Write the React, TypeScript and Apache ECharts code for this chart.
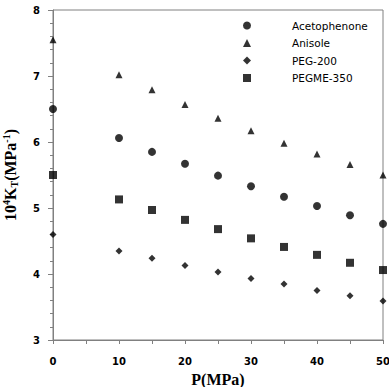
import React, { useEffect, useRef } from "react";
import * as echarts from "echarts";

const pressures = [0, 10, 15, 20, 25, 30, 35, 40, 45, 50];
const acetophenone = [6.5, 6.06, 5.85, 5.67, 5.49, 5.33, 5.17, 5.03, 4.89, 4.76];
const anisole = [7.55, 7.02, 6.79, 6.57, 6.36, 6.17, 5.98, 5.82, 5.66, 5.5];
const peg200 = [4.6, 4.35, 4.24, 4.13, 4.03, 3.93, 3.85, 3.75, 3.67, 3.59];
const pegme350 = [5.5, 5.13, 4.97, 4.82, 4.68, 4.54, 4.41, 4.29, 4.17, 4.06];

const seriesNames = ["Acetophenone", "Anisole", "PEG-200", "PEGME-350"];
const seriesValues = [acetophenone, anisole, peg200, pegme350];
const seriesSymbols = ["circle", "triangle", "diamond", "rect"];
const seriesSizes = [8, 7, 7, 8];

export default function App() {
  const ref = useRef<HTMLDivElement>(null);
  useEffect(() => {
    if (!ref.current) return;
    const chart = echarts.init(ref.current, undefined, { renderer: "svg" });
    const axisGray = "#808080";
    const labelStyle = {
      color: "#000",
      fontFamily: "DejaVu Sans",
      fontWeight: "bold" as const,
      fontSize: 10,
    };
    const titleFont = {
      fontFamily: "Liberation Serif",
      fontWeight: "bold" as const,
      fontSize: 16,
      color: "#000",
    };
    chart.setOption({
      animation: false,
      backgroundColor: "#fff",
      grid: {
        left: 53,
        right: 6,
        top: 10,
        bottom: 47,
        show: true,
        borderColor: axisGray,
        borderWidth: 1,
        containLabel: false,
        outerBoundsMode: "none",
      },
      legend: {
        orient: "vertical",
        left: 238,
        top: 15,
        itemWidth: 8,
        itemHeight: 8,
        itemGap: 6.5,
        data: seriesNames.map((n, i) => ({ name: n, icon: seriesSymbols[i] })),
        textStyle: {
          fontFamily: "DejaVu Sans",
          fontSize: 10.5,
          color: "#000",
          padding: [0, 0, 0, 36],
        },
      },
      xAxis: {
        type: "value",
        min: 0,
        max: 50,
        interval: 10,
        name: "P(MPa)",
        nameLocation: "middle",
        nameGap: 31,
        nameTextStyle: titleFont,
        axisLine: { show: true, lineStyle: { color: axisGray } },
        axisTick: { show: true, length: 4, lineStyle: { color: axisGray } },
        minorTick: { show: true, splitNumber: 2, length: 4, lineStyle: { color: axisGray } },
        splitLine: { show: false },
        axisLabel: { ...labelStyle, margin: 16 },
      },
      yAxis: {
        type: "value",
        min: 3,
        max: 8,
        interval: 1,
        name: "{a|10}{sup|4}{a|K}{sub|T}{a|(MPa}{sup|-1}{a|)}",
        nameLocation: "middle",
        nameRotate: 90,
        nameGap: 34,
        nameTextStyle: {
          ...titleFont,
          rich: {
            a: { ...titleFont, lineHeight: 18 },
            sup: { ...titleFont, fontSize: 10, verticalAlign: "top", lineHeight: 10 },
            sub: { ...titleFont, fontSize: 10, verticalAlign: "bottom", lineHeight: 10 },
          },
        },
        axisLine: { show: true, lineStyle: { color: axisGray } },
        axisTick: { show: true, length: 5, lineStyle: { color: axisGray } },
        minorTick: { show: true, splitNumber: 5, length: 3, lineStyle: { color: axisGray } },
        splitLine: { show: false },
        axisLabel: { ...labelStyle, margin: 13 },
      },
      series: seriesNames.map((name, i) => ({
        name,
        type: "scatter",
        symbol: seriesSymbols[i],
        symbolSize: seriesSizes[i],
        itemStyle: { color: "#000" },
        data: pressures.map((p, j) => [p, seriesValues[i][j]]),
      })),
    });
    return () => chart.dispose();
  }, []);
  return <div ref={ref} style={{ width: 389, height: 387, position: "absolute", left: 0, top: 0 }} />;
}
